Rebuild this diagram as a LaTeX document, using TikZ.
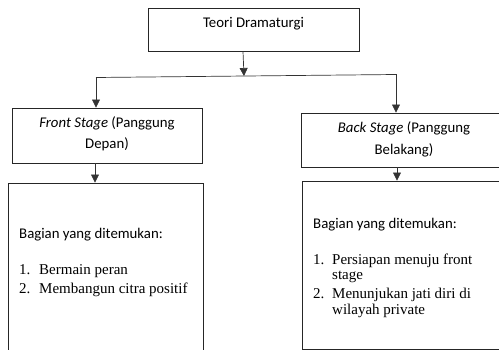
\documentclass[tikz,border=0pt]{standalone}
\usepackage{fontspec}
\setmainfont{Carlito}
\newfontfamily\serifx{Liberation Serif}
\usetikzlibrary{arrows.meta}
\begin{document}
\begin{tikzpicture}[x=1pt,y=-1pt,
  box/.style={draw=black!85,line width=0.9pt,rectangle,inner sep=0pt},
  conn/.style={draw=black!80,line width=0.7pt},
  arr/.style={conn,-{Triangle[length=8pt,width=8pt]}},
  lbl/.style={font=\fontsize{14.8}{18}\selectfont,inner sep=0pt,anchor=base},
  lst/.style={font=\serifx\fontsize{15}{18}\selectfont,inner sep=0pt,anchor=base west},
  hdr/.style={font=\fontsize{14.8}{18}\selectfont,inner sep=0pt,anchor=base west}]
\useasboundingbox (0,0) rectangle (499,350);
\clip (0,0) rectangle (499,350);
% boxes
\node[box,minimum width=211pt,minimum height=43pt] (top) at (253.5,29.5) {};
\node[box,minimum width=190pt,minimum height=55pt] (front) at (107,135.5) {};
\node[box,minimum width=220pt,minimum height=54pt] (back) at (411,140) {};
\node[box,minimum width=195pt,minimum height=187pt] (fl) at (105.5,276.5) {};
\node[box,minimum width=218pt,minimum height=168pt] (bl) at (411,265) {};
% texts
\node[lbl] (t1) at (253.5,28) {Teori Dramaturgi};
\node[lbl] (f1) at (107,128) {\textit{Front Stage} (Panggung};
\node[lbl] (f2) at (107,149) {Depan)};
\node[lbl] (b1) at (404,133) {\textit{Back Stage} (Panggung};
\node[lbl] (b2) at (404,155) {Belakang)};
\node[hdr] (fh) at (19,239) {Bagian yang ditemukan:};
\node[lst] (fn1) at (19,275) {1.};
\node[lst] (fi1) at (39,275) {Bermain peran};
\node[lst] (fn2) at (19,294) {2.};
\node[lst] (fi2) at (39,294) {Membangun citra positif};
\node[hdr] (bh) at (313,229) {Bagian yang ditemukan:};
\node[lst] (bn1) at (313,265) {1.};
\node[lst] (bi1) at (332,265) {Persiapan menuju front};
\node[lst] (bi1b) at (332,280) {stage};
\node[lst] (bn2) at (313,299) {2.};
\node[lst] (bi2) at (332,299) {Menunjukan jati diri di};
\node[lst] (bi2b) at (332,315) {wilayah private};
% connectors
\coordinate (j) at (244,76);
\coordinate (jl) at (96,77.5);
\coordinate (jr) at (396,74.5);
\draw[arr] (top.south -| 243,0) -- (j);
\draw[conn] (jl) -- (jr);
\draw[arr] (jl) -- (jl |- front.north);
\draw[arr] (jr) -- (jr |- back.north);
\draw[arr] (front.south -| 95,0) -- (fl.north -| 95,0);
\draw[arr] (back.south -| 397,0) -- (bl.north -| 397,0);
\end{tikzpicture}
\end{document}
